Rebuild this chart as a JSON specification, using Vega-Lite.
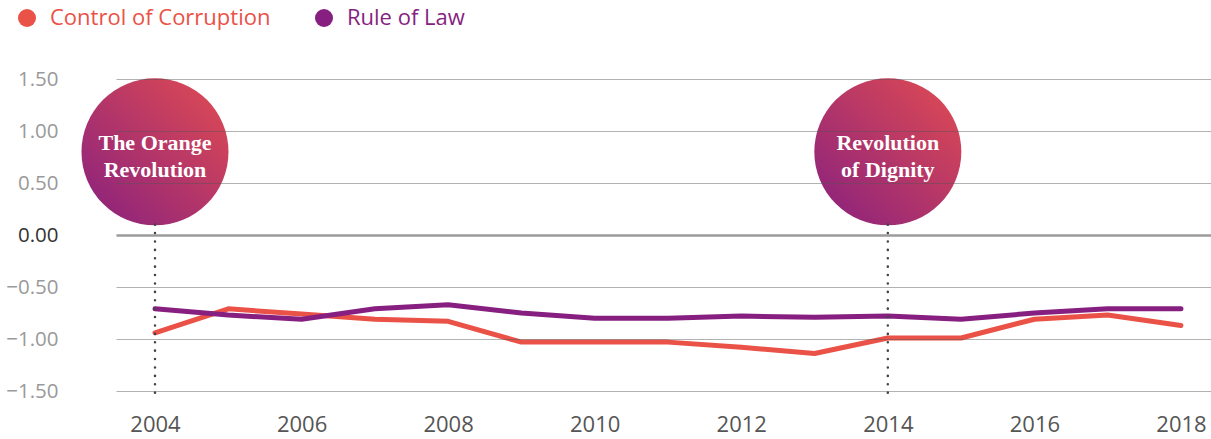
{
  "$schema": "https://vega.github.io/schema/vega-lite/v6.json",
  "width": 1095,
  "height": 312,
  "autosize": "none",
  "padding": {"left": 116, "top": 79, "right": 0, "bottom": 48},
  "background": "white",
  "config": {"view": {"stroke": null}, "font": "Open Sans"},
  "datasets": {
    "series": [
      {"year": 2004, "series": "Control of Corruption", "value": -0.94},
      {"year": 2005, "series": "Control of Corruption", "value": -0.71},
      {"year": 2006, "series": "Control of Corruption", "value": -0.76},
      {"year": 2007, "series": "Control of Corruption", "value": -0.81},
      {"year": 2008, "series": "Control of Corruption", "value": -0.83},
      {"year": 2009, "series": "Control of Corruption", "value": -1.03},
      {"year": 2010, "series": "Control of Corruption", "value": -1.03},
      {"year": 2011, "series": "Control of Corruption", "value": -1.03},
      {"year": 2012, "series": "Control of Corruption", "value": -1.08},
      {"year": 2013, "series": "Control of Corruption", "value": -1.14},
      {"year": 2014, "series": "Control of Corruption", "value": -0.99},
      {"year": 2015, "series": "Control of Corruption", "value": -0.99},
      {"year": 2016, "series": "Control of Corruption", "value": -0.81},
      {"year": 2017, "series": "Control of Corruption", "value": -0.77},
      {"year": 2018, "series": "Control of Corruption", "value": -0.87},
      {"year": 2004, "series": "Rule of Law", "value": -0.71},
      {"year": 2005, "series": "Rule of Law", "value": -0.77},
      {"year": 2006, "series": "Rule of Law", "value": -0.81},
      {"year": 2007, "series": "Rule of Law", "value": -0.71},
      {"year": 2008, "series": "Rule of Law", "value": -0.67},
      {"year": 2009, "series": "Rule of Law", "value": -0.75},
      {"year": 2010, "series": "Rule of Law", "value": -0.8},
      {"year": 2011, "series": "Rule of Law", "value": -0.8},
      {"year": 2012, "series": "Rule of Law", "value": -0.78},
      {"year": 2013, "series": "Rule of Law", "value": -0.79},
      {"year": 2014, "series": "Rule of Law", "value": -0.78},
      {"year": 2015, "series": "Rule of Law", "value": -0.81},
      {"year": 2016, "series": "Rule of Law", "value": -0.75},
      {"year": 2017, "series": "Rule of Law", "value": -0.71},
      {"year": 2018, "series": "Rule of Law", "value": -0.71}
    ],
    "events": [
      {"year": 2004, "top": 0.1, "bottom": -1.57, "center": 0.8, "label": "The Orange\nRevolution"},
      {"year": 2014, "top": 0.1, "bottom": -1.57, "center": 0.8, "label": "Revolution\nof Dignity"}
    ]
  },
  "layer": [
    {
      "data": {"name": "events"},
      "mark": {"type": "point", "shape": "circle", "size": 21609, "filled": true, "opacity": 1,
        "fill": {"gradient": "linear", "x1": 0, "y1": 1, "x2": 1, "y2": 0,
          "stops": [{"offset": 0, "color": "#87207f"}, {"offset": 1, "color": "#e24c51"}]},
        "strokeWidth": 0},
      "encoding": {
        "x": {"field": "year", "type": "quantitative", "scale": {"domain": [2003.468, 2018.41], "nice": false, "zero": false},
          "axis": {"values": [2004, 2006, 2008, 2010, 2012, 2014, 2016, 2018], "format": "d", "title": null,
            "domain": false, "ticks": false, "grid": false, "labelFontSize": 22, "labelColor": "#555555",
            "labelPadding": 23, "labelFont": "Open Sans"}},
        "y": {"field": "center", "type": "quantitative", "scale": {"domain": [-1.5, 1.5], "nice": false, "zero": false},
          "axis": {"values": [-1.5, -1, -0.5, 0, 0.5, 1, 1.5], "format": ".2f", "title": null,
            "domain": false, "ticks": false, "grid": true, "zindex": 1,
            "gridColor": {"condition": {"test": "datum.value === 0", "value": "#222222"}, "value": "#555555"},
            "gridOpacity": 0.45,
            "gridWidth": {"condition": {"test": "datum.value === 0", "value": 2.5}, "value": 1.2},
            "labelFontSize": 20.5, "labelPadding": 58, "labelFont": "Open Sans",
            "labelColor": {"condition": {"test": "datum.value === 0", "value": "#333333"}, "value": "#9a9a9a"}}}
      }
    },
    {
      "data": {"name": "series"},
      "mark": {"type": "line", "strokeWidth": 5, "strokeCap": "round", "strokeJoin": "round"},
      "encoding": {
        "x": {"field": "year", "type": "quantitative"},
        "y": {"field": "value", "type": "quantitative"},
        "color": {"field": "series", "type": "nominal",
          "scale": {"domain": ["Control of Corruption", "Rule of Law"], "range": ["#ea5147", "#861f80"]},
          "legend": {"orient": "none", "legendX": -100, "legendY": -72, "direction": "horizontal", "title": null,
            "symbolType": "circle", "symbolSize": 324, "symbolStrokeWidth": 0, "labelFontSize": 22,
            "labelOffset": 12, "columnPadding": 42, "padding": 0, "labelFont": "Open Sans", "labelFontWeight": 500,
            "labelLimit": 500,
            "encode": {
              "symbols": {"update": {"fill": {"scale": "color", "field": "value"}, "strokeWidth": {"value": 0}, "opacity": {"value": 1}}},
              "labels": {"update": {"fill": {"scale": "color", "field": "value"}}}
            }}}
      }
    },
    {
      "data": {"name": "events"},
      "mark": {"type": "rule", "strokeWidth": 2.5, "strokeDash": [0.1, 8.3], "strokeCap": "round", "color": "#444444"},
      "encoding": {
        "x": {"field": "year", "type": "quantitative"},
        "y": {"field": "top", "type": "quantitative"},
        "y2": {"field": "bottom"}
      }
    },
    {
      "data": {"name": "events"},
      "mark": {"type": "text", "font": "Liberation Serif", "fontWeight": "bold", "fontSize": 22, "color": "white",
        "lineBreak": "\n", "lineHeight": 27, "align": "center", "baseline": "middle", "dy": -9},
      "encoding": {
        "x": {"field": "year", "type": "quantitative"},
        "y": {"field": "center", "type": "quantitative"},
        "text": {"field": "label"}
      }
    }
  ]
}
